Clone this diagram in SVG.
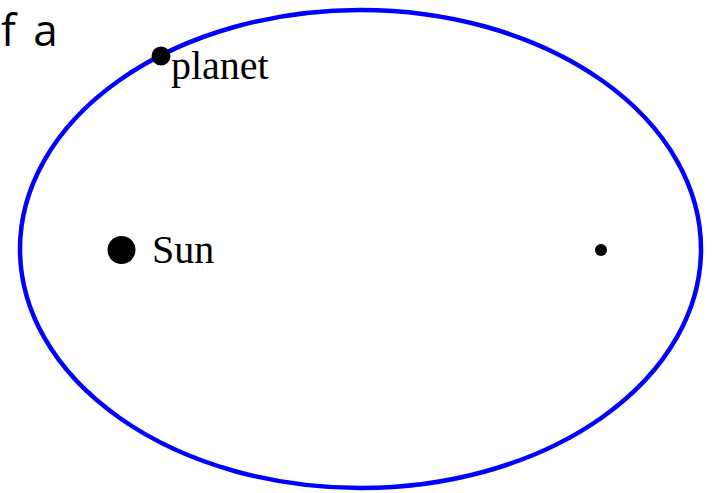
<svg xmlns="http://www.w3.org/2000/svg" width="714" height="493" viewBox="0 0 714 493">
<style>
.lbl{font-family:"Liberation Serif","Times New Roman",serif;font-size:40px;fill:#000}
.title{font-family:"Open Sans","Noto Sans",sans-serif;font-size:44px;fill:#000;word-spacing:6px}
</style>
<rect width="714" height="493" fill="#fff"/>
<g id="orbit"><ellipse cx="360.5" cy="249" rx="340.5" ry="239" fill="none" stroke="#0000ff" stroke-width="4.5"/></g>
<g id="sun"><circle cx="121.5" cy="250" r="14" fill="#000"/><text class="lbl" x="152" y="263">Sun</text></g>
<g id="focus"><circle cx="601" cy="250" r="6" fill="#000"/></g>
<g id="planet"><circle cx="161" cy="56" r="9.5" fill="#000"/><text class="lbl" x="171" y="79">planet</text></g>
<text class="title" x="1" y="46">f a</text>
</svg>
